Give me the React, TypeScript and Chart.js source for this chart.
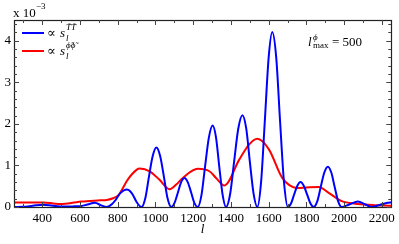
import { useEffect, useRef } from 'react';
import { Chart, registerables } from 'chart.js';

Chart.register(...registerables);

// multipole l and amplitudes (x 10^-3)
const blueL = [250, 300, 350, 405, 455, 510, 560, 600, 640, 679, 712, 741, 770, 790, 815, 848, 875, 900, 926, 946, 965, 985, 1005, 1025, 1045, 1064, 1084, 1101, 1119, 1136, 1154, 1171, 1189, 1206, 1224, 1244, 1263, 1283, 1303, 1321, 1338, 1356, 1374, 1396, 1417, 1439, 1461, 1481, 1500, 1520, 1540, 1560, 1580, 1600, 1619, 1640, 1660, 1681, 1702, 1719, 1735, 1752, 1769, 1786, 1804, 1821, 1839, 1858, 1876, 1895, 1914, 1932, 1950, 1968, 1986, 2030, 2073, 2110, 2146, 2195, 2230, 2250];
const blueV = [0.0, 0.005, 0.03, 0.055, 0.03, 0.01, 0.015, 0.02, 0.06, 0.10, 0.04, 0.0, 0.07, 0.18, 0.34, 0.42, 0.33, 0.12, 0.0, 0.21, 0.72, 1.22, 1.43, 1.22, 0.72, 0.21, 0.0, 0.10, 0.35, 0.60, 0.70, 0.60, 0.35, 0.10, 0.0, 0.29, 0.98, 1.67, 1.96, 1.67, 0.98, 0.29, 0.0, 0.32, 1.1, 1.89, 2.21, 1.89, 1.1, 0.32, 0.0, 0.61, 2.1, 3.6, 4.21, 3.6, 2.1, 0.61, 0.0, 0.09, 0.3, 0.51, 0.60, 0.51, 0.3, 0.09, 0.0, 0.14, 0.48, 0.83, 0.97, 0.83, 0.48, 0.14, 0.0, 0.065, 0.13, 0.065, 0.0, 0.06, 0.1, 0.11];

const redL = [250, 300, 405, 469, 505, 560, 606, 706, 742, 775, 806, 853, 901, 917, 969, 1020, 1075, 1110, 1145, 1224, 1286, 1321, 1365, 1444, 1496, 1540, 1602, 1672, 1751, 1800, 1865, 1918, 1988, 2059, 2150, 2250];
const redV = [0.11, 0.11, 0.11, 0.08, 0.075, 0.1, 0.13, 0.16, 0.17, 0.21, 0.3, 0.66, 0.9, 0.925, 0.86, 0.66, 0.43, 0.54, 0.70, 0.92, 0.86, 0.70, 0.52, 1.14, 1.5, 1.64, 1.38, 0.70, 0.46, 0.47, 0.48, 0.34, 0.14, 0.08, 0.05, 0.03];

const xTickLabels = [400, 600, 800, 1000, 1200, 1400, 1600, 1800, 2000, 2200];
const xMinorTicks = [300, 500, 700, 900, 1100, 1300, 1500, 1700, 1900, 2100];
const yTickLabels = [0, 1, 2, 3, 4];
const yMinorTicks = [0.2, 0.4, 0.6, 0.8, 1.2, 1.4, 1.6, 1.8, 2.2, 2.4, 2.6, 2.8, 3.2, 3.4, 3.6, 3.8, 4.2, 4.4];

const SERIF = "'Liberation Serif', 'DejaVu Serif', serif";

const decorPlugin = {
  id: 'decor',
  afterDraw(chart: any) {
    const ctx = chart.ctx as CanvasRenderingContext2D;
    const { left, right, top, bottom } = chart.chartArea;
    const xs = chart.scales.x;
    const ys = chart.scales.y;
    ctx.save();
    // frame
    ctx.strokeStyle = '#222';
    ctx.lineWidth = 1.2;
    ctx.strokeRect(Math.round(left) + 0.5, Math.round(top) + 0.5, Math.round(right - left), Math.round(bottom - top));
    // ticks
    ctx.strokeStyle = '#444';
    ctx.lineWidth = 1;
    const xTick = (v: number, len: number) => {
      const px = Math.round(xs.getPixelForValue(v)) + 0.5;
      ctx.beginPath();
      ctx.moveTo(px, bottom);
      ctx.lineTo(px, bottom - len);
      ctx.moveTo(px, top);
      ctx.lineTo(px, top + len);
      ctx.stroke();
    };
    const yTick = (v: number, len: number) => {
      const py = Math.round(ys.getPixelForValue(v)) + 0.5;
      ctx.beginPath();
      ctx.moveTo(left, py);
      ctx.lineTo(left + len, py);
      ctx.moveTo(right, py);
      ctx.lineTo(right - len, py);
      ctx.stroke();
    };
    xTickLabels.forEach((v) => xTick(v, 5));
    xMinorTicks.forEach((v) => xTick(v, 3));
    yTickLabels.forEach((v) => yTick(v, 5));
    yMinorTicks.forEach((v) => yTick(v, 3));

    // exponent label
    ctx.fillStyle = '#000';
    ctx.textBaseline = 'alphabetic';
    ctx.textAlign = 'left';
    ctx.font = `13px ${SERIF}`;
    ctx.fillText('x 10', 13, 17);
    ctx.font = `9px ${SERIF}`;
    ctx.fillText('\u22123', 36, 8.5);

    // legend
    const legendRow = (y: number, color: string, sup: string) => {
      ctx.strokeStyle = color;
      ctx.lineWidth = 2;
      ctx.beginPath();
      ctx.moveTo(22, y);
      ctx.lineTo(44, y);
      ctx.stroke();
      ctx.fillStyle = '#000';
      ctx.font = `13px ${SERIF}`;
      ctx.fillText('\u221d', 47, y + 4);
      ctx.font = `italic 13px ${SERIF}`;
      ctx.fillText('s', 60, y + 4);
      ctx.font = `italic 9px ${SERIF}`;
      ctx.fillText(sup, 66, y - 3);
      ctx.fillText('l', 66, y + 8);
    };
    legendRow(33, '#0000ff', 'T\u0303T\u0303');
    legendRow(51, '#ff0000', '\u03d5\u0303\u03d5\u0303');

    // annotation
    ctx.fillStyle = '#000';
    ctx.font = `italic 13px ${SERIF}`;
    ctx.fillText('l', 308, 46);
    ctx.font = `italic 9px ${SERIF}`;
    ctx.fillText('\u03d5', 313, 40);
    ctx.font = `9px ${SERIF}`;
    ctx.fillText('max', 313, 48);
    ctx.font = `13px ${SERIF}`;
    ctx.fillText('= 500', 332, 46);
    ctx.restore();
  },
};

export default function App() {
  const ref = useRef<HTMLCanvasElement>(null);
  useEffect(() => {
    if (!ref.current) return;
    Chart.defaults.font.family = SERIF;
    const chart = new Chart(ref.current, {
      type: 'line',
      data: {
        datasets: [
          {
            label: 'TT',
            data: blueL.map((l, i) => ({ x: l, y: blueV[i] })),
            borderColor: '#0000ff',
            borderWidth: 2,
            pointRadius: 0,
            fill: false,
            cubicInterpolationMode: 'monotone',
          },
          {
            label: 'phiphi',
            data: redL.map((l, i) => ({ x: l, y: redV[i] })),
            borderColor: '#ff0000',
            borderWidth: 2,
            pointRadius: 0,
            fill: false,
            cubicInterpolationMode: 'monotone',
          },
        ],
      },
      options: {
        animation: false,
        responsive: false,
        layout: { padding: { top: 20, right: 6, left: 0, bottom: 0 } },
        plugins: { legend: { display: false }, tooltip: { enabled: false } },
        scales: {
          x: {
            type: 'linear',
            min: 250,
            max: 2250,
            grid: { display: false, drawTicks: false },
            border: { display: false },
            afterBuildTicks: (s: any) => {
              s.ticks = xTickLabels.map((v) => ({ value: v }));
            },
            afterFit: (s: any) => {
              s.height = 37;
            },
            ticks: {
              autoSkip: false,
              maxRotation: 0,
              padding: 4,
              color: '#000',
              font: { size: 13, family: SERIF },
              callback: (v: any) => String(v),
            },
            title: {
              display: true,
              text: 'l',
              color: '#000',
              font: { size: 13, style: 'italic', family: SERIF },
              padding: { top: 0, bottom: 7 },
            },
          },
          y: {
            type: 'linear',
            min: 0,
            max: 4.5,
            grid: { display: false, drawTicks: false },
            border: { display: false },
            afterBuildTicks: (s: any) => {
              s.ticks = yTickLabels.map((v) => ({ value: v }));
            },
            afterFit: (s: any) => {
              s.width = 14;
            },
            ticks: {
              padding: 3,
              color: '#000',
              font: { size: 13, family: SERIF },
              callback: (v: any) => String(v),
            },
          },
        },
      },
      plugins: [decorPlugin],
    });
    return () => chart.destroy();
  }, []);
  return (
    <div style={{ position: 'absolute', left: 0, top: 0, width: 399, height: 244, background: '#fff' }}>
      <canvas ref={ref} width={399} height={244} style={{ display: 'block' }} />
    </div>
  );
}
